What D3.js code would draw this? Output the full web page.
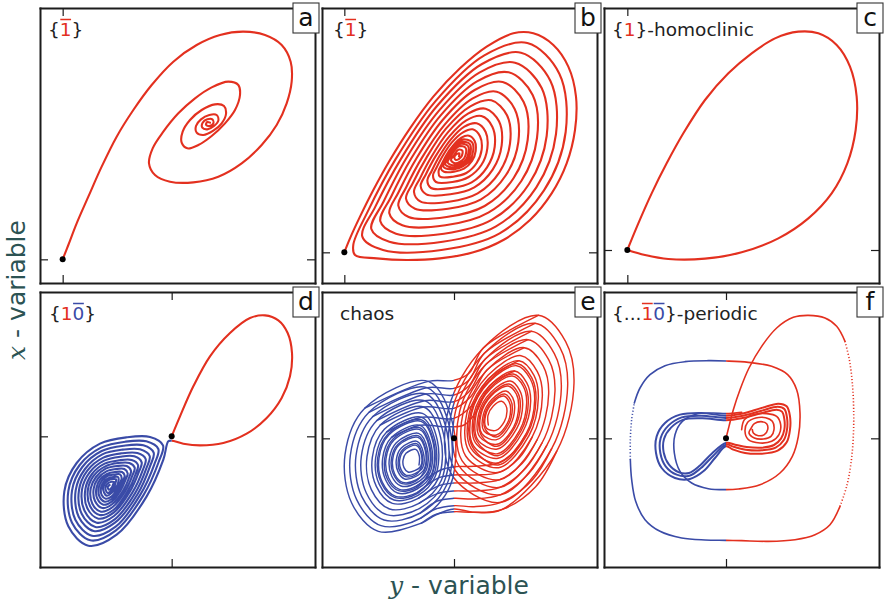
<!DOCTYPE html>
<html>
<head>
<meta charset="utf-8">
<script src="https://cdn.jsdelivr.net/npm/d3@7"></script>
<style>
  body { margin: 0; background: #fff; }
  svg { display: block; font-family: "DejaVu Sans", sans-serif; }
</style>
</head>
<body>
<svg id="chart" width="884" height="606"></svg>
<script>
// Phase portraits of a Lorenz-like system: unstable separatrix of the saddle
// (black dot at the origin) projected on the (y, x) plane.
// Red where y > 0, blue where y < 0.

const panelKeys = ["a", "b", "c", "d", "e", "f"];

// Title of each panel as [text, side, overbar]
const panelTitles = [
  [["{", "", false], ["1", "R", true], ["}", "", false]],
  [["{", "", false], ["1", "R", true], ["}", "", false]],
  [["{", "", false], ["1", "R", false], ["}-homoclinic", "", false]],
  [["{", "", false], ["1", "R", false], ["0", "B", true], ["}", "", false]],
  [["chaos", "", false]],
  [["{...", "", false], ["1", "R", true], ["0", "B", true], ["}-periodic", "", false]]
];

// Axis extents (y on the horizontal axis, x on the vertical axis)
const yVarDomains = [[-0.68, 7.57], [-0.67, 7.58], [-0.70, 7.55], [-3.95, 4.30], [-3.96, 4.29], [-3.66, 4.59]];
const xVarDomains = [[-0.71, 7.54], [-0.92, 7.33], [-0.99, 7.26], [-3.92, 4.33], [-3.86, 4.39], [-3.86, 4.39]];
const tickValues = [0];

// (a) {1̄}: one big excursion, then spiralling into the focus
const orbitA = [[0,0],[0.17,0.43],[0.42,1.08],[0.77,1.88],[1.17,2.78],[1.62,3.68],[2.12,4.48],[2.67,5.23],[3.32,5.93],[4.02,6.43],[4.72,6.73],[5.42,6.83],[6.07,6.73],[6.57,6.43],[6.84,5.93],[6.87,5.33],[6.72,4.68],[6.42,4.03],[5.97,3.43],[5.37,2.88],[4.67,2.48],[3.92,2.31],[3.22,2.33],[2.77,2.53],[2.59,2.88],[2.70,3.33],[3.02,3.83],[3.47,4.38],[3.97,4.83],[4.47,5.16],[4.97,5.33],[5.27,5.23],[5.32,4.93],[5.17,4.48],[4.87,4.08],[4.47,3.70],[4.07,3.43],[3.74,3.33],[3.57,3.50],[3.60,3.83],[3.82,4.18],[4.17,4.48],[4.57,4.65],[4.84,4.60],[4.90,4.36],[4.77,4.08],[4.52,3.86],[4.22,3.73],[4.02,3.80],[4.00,4.00],[4.15,4.20],[4.40,4.33],[4.62,4.33],[4.67,4.16],[4.54,4.00],[4.34,3.90],[4.19,3.95],[4.20,4.10],[4.34,4.20],[4.49,4.20],[4.52,4.08],[4.40,4.00],[4.30,4.04],[4.34,4.12],[4.42,4.10]];

// (b) {1̄}: slowly shrinking loops that graze the saddle
const orbitB = [
  [0,0],[0.17,0.42],[0.47,1.07],[0.87,1.87],[1.37,2.77],[1.97,3.72],[2.67,4.67],[3.47,5.52],[4.27,6.17],[5.07,6.57],[5.67,6.57],[6.27,6.22],[6.72,5.57],[6.95,4.67],[6.92,3.67],[6.67,2.67],[6.22,1.77],[5.57,0.97],[4.77,0.37],[3.87,0.00],[2.87,-0.18],[1.87,-0.23],[0.97,-0.18],[0.32,-0.08],
  [0.27,0.23],[0.70,1.22],[1.53,2.78],[2.73,4.53],[4.20,5.91],[5.49,6.28],[6.45,5.36],[6.64,3.61],[5.99,1.86],[4.66,0.57],[2.91,0.07],[1.16,0.07],
  [0.54,0.47],[0.93,1.37],[1.69,2.79],[2.78,4.39],[4.13,5.65],[5.30,5.99],[6.18,5.15],[6.35,3.55],[5.76,1.95],[4.55,0.78],[2.95,0.32],[1.35,0.32],
  [0.81,0.70],[1.17,1.51],[1.85,2.81],[2.84,4.25],[4.05,5.39],[5.12,5.69],[5.92,4.93],[6.07,3.49],[5.54,2.05],[4.43,0.98],[2.99,0.56],[1.55,0.56],
  [1.08,0.93],[1.40,1.66],[2.01,2.82],[2.89,4.11],[3.98,5.13],[4.93,5.40],[5.65,4.72],[5.78,3.43],[5.31,2.14],[4.32,1.19],[3.03,0.81],[1.74,0.81],
  [1.35,1.17],[1.63,1.81],[2.17,2.83],[2.95,3.97],[3.91,4.87],[4.75,5.11],[5.38,4.51],[5.50,3.37],[5.08,2.23],[4.21,1.39],[3.07,1.06],[1.93,1.06],
  [1.62,1.40],[1.86,1.96],[2.33,2.84],[3.01,3.83],[3.84,4.61],[4.57,4.82],[5.11,4.30],[5.22,3.31],[4.85,2.32],[4.10,1.59],[3.11,1.31],[2.12,1.31],
  [1.85,1.61],[2.06,2.09],[2.47,2.85],[3.05,3.71],[3.78,4.38],[4.41,4.56],[4.88,4.11],[4.97,3.26],[4.65,2.40],[4.00,1.77],[3.14,1.52],[2.29,1.52],
  [2.09,1.81],[2.27,2.22],[2.61,2.86],[3.10,3.59],[3.71,4.16],[4.24,4.31],[4.64,3.93],[4.72,3.21],[4.45,2.48],[3.90,1.95],[3.18,1.74],[2.46,1.74],
  [2.29,1.99],[2.44,2.33],[2.73,2.87],[3.15,3.48],[3.66,3.96],[4.11,4.09],[4.44,3.77],[4.51,3.16],[4.28,2.55],[3.82,2.10],[3.21,1.93],[2.60,1.93],
  [2.49,2.16],[2.62,2.44],[2.85,2.88],[3.19,3.38],[3.60,3.77],[3.97,3.87],[4.24,3.61],[4.29,3.12],[4.11,2.62],[3.73,2.26],[3.24,2.11],[2.75,2.11],
  [2.66,2.31],[2.76,2.53],[2.95,2.89],[3.22,3.29],[3.56,3.60],[3.85,3.69],[4.07,3.48],[4.12,3.08],[3.97,2.68],[3.66,2.38],[3.26,2.27],[2.87,2.27],
  [2.83,2.45],[2.91,2.62],[3.05,2.90],[3.26,3.20],[3.51,3.44],[3.74,3.50],[3.91,3.34],[3.94,3.04],[3.83,2.74],[3.59,2.51],[3.29,2.42],[2.99,2.42],
  [2.90,2.51],[3.09,2.90],[3.50,3.38],[3.84,3.29],[3.77,2.76],[3.30,2.49],
  [2.97,2.57],[3.13,2.90],[3.48,3.31],[3.77,3.24],[3.71,2.78],[3.31,2.55],
  [3.03,2.63],[3.17,2.90],[3.46,3.25],[3.71,3.19],[3.66,2.80],[3.32,2.61],
  [3.10,2.69],[3.21,2.91],[3.44,3.18],[3.64,3.13],[3.60,2.83],[3.33,2.67],
  [3.20,2.77],[3.29,2.91],[3.42,3.08],[3.54,3.05],[3.51,2.87],[3.35,2.77],
  [3.30,2.85],[3.38,2.95],[3.45,2.97],[3.44,2.88]
];

// (c) {1}: homoclinic loop back into the saddle
const orbitC = [[0,0],[0.33,0.80],[0.73,1.70],[1.18,2.60],[1.68,3.50],[2.33,4.50],[3.03,5.30],[3.73,5.90],[4.43,6.35],[5.13,6.55],[5.73,6.50],[6.28,6.15],[6.68,5.50],[6.88,4.60],[6.85,3.60],[6.60,2.60],[6.13,1.70],[5.43,0.95],[4.53,0.35],[3.43,-0.07],[2.33,-0.26],[1.23,-0.27],[0.53,-0.15],[0,0]];

// (d) {10̄}: one loop on the right, then a spiral into the left focus
const orbitD = [
  [0,0],[0.25,0.60],[0.65,1.50],[1.15,2.40],[1.75,3.10],[2.35,3.55],[2.80,3.63],[3.20,3.48],[3.48,3.10],[3.61,2.50],[3.55,1.80],[3.30,1.15],[2.85,0.55],[2.25,0.08],[1.55,-0.20],[0.85,-0.27],[0.35,-0.22],[0,-0.13],
  [-0.10,-0.15],[-0.25,-0.70],[-0.75,-1.80],[-1.65,-2.95],[-2.50,-3.28],[-3.10,-2.70],[-3.22,-1.65],[-2.85,-0.80],[-2.15,-0.22],[-1.35,-0.03],[-0.65,-0.02],
  [-0.26,-0.27],[-0.39,-0.77],[-0.85,-1.77],[-1.67,-2.82],[-2.44,-3.12],[-2.99,-2.59],[-3.10,-1.64],[-2.76,-0.86],[-2.12,-0.34],[-1.39,-0.16],[-0.76,-0.15],
  [-0.40,-0.38],[-0.52,-0.84],[-0.94,-1.75],[-1.68,-2.71],[-2.39,-2.98],[-2.89,-2.50],[-2.99,-1.63],[-2.68,-0.92],[-2.10,-0.44],[-1.43,-0.28],[-0.85,-0.27],
  [-0.54,-0.49],[-0.65,-0.90],[-1.02,-1.73],[-1.70,-2.59],[-2.34,-2.84],[-2.79,-2.41],[-2.88,-1.62],[-2.60,-0.98],[-2.08,-0.54],[-1.47,-0.40],[-0.95,-0.39],
  [-0.66,-0.59],[-0.76,-0.96],[-1.10,-1.71],[-1.71,-2.49],[-2.29,-2.72],[-2.70,-2.32],[-2.78,-1.61],[-2.53,-1.03],[-2.05,-0.64],[-1.51,-0.51],[-1.03,-0.50],
  [-0.78,-0.68],[-0.87,-1.02],[-1.18,-1.69],[-1.73,-2.39],[-2.25,-2.59],[-2.61,-2.24],[-2.69,-1.60],[-2.46,-1.08],[-2.03,-0.73],[-1.54,-0.61],[-1.12,-0.60],
  [-0.90,-0.78],[-0.99,-1.08],[-1.26,-1.67],[-1.74,-2.29],[-2.20,-2.47],[-2.53,-2.16],[-2.59,-1.59],[-2.39,-1.13],[-2.01,-0.82],[-1.58,-0.72],[-1.20,-0.71],
  [-1.01,-0.86],[-1.08,-1.13],[-1.32,-1.65],[-1.75,-2.21],[-2.16,-2.36],[-2.45,-2.09],[-2.51,-1.58],[-2.33,-1.17],[-1.99,-0.90],[-1.61,-0.80],[-1.27,-0.80],
  [-1.11,-0.94],[-1.18,-1.18],[-1.39,-1.64],[-1.77,-2.12],[-2.12,-2.26],[-2.38,-2.02],[-2.43,-1.57],[-2.27,-1.22],[-1.98,-0.97],[-1.64,-0.89],[-1.35,-0.89],
  [-1.22,-1.03],[-1.27,-1.22],[-1.45,-1.62],[-1.78,-2.03],[-2.08,-2.15],[-2.30,-1.94],[-2.34,-1.57],[-2.21,-1.26],[-1.96,-1.05],[-1.67,-0.98],[-1.42,-0.98],
  [-1.32,-1.11],[-1.37,-1.27],[-1.52,-1.60],[-1.79,-1.95],[-2.05,-2.05],[-2.23,-1.87],[-2.26,-1.56],[-2.15,-1.30],[-1.94,-1.13],[-1.70,-1.07],[-1.49,-1.07],
  [-1.41,-1.18],[-1.45,-1.31],[-1.57,-1.59],[-1.80,-1.88],[-2.01,-1.96],[-2.16,-1.82],[-2.19,-1.55],[-2.10,-1.34],[-1.93,-1.19],[-1.72,-1.15],[-1.55,-1.14],
  [-1.50,-1.25],[-1.53,-1.36],[-1.63,-1.58],[-1.81,-1.81],[-1.98,-1.87],[-2.10,-1.76],[-2.12,-1.55],[-2.05,-1.38],[-1.91,-1.26],[-1.75,-1.22],[-1.61,-1.22],
  [-1.59,-1.31],[-1.68,-1.56],[-1.95,-1.78],[-2.06,-1.54],[-1.90,-1.32],[-1.67,-1.29],
  [-1.68,-1.38],[-1.74,-1.55],[-1.92,-1.70],[-1.99,-1.53],[-1.88,-1.39],[-1.73,-1.37],
  [-1.76,-1.45],[-1.80,-1.54],[-1.88,-1.60],[-1.92,-1.52],[-1.86,-1.46]
];

// (e) chaos: growing loops round the right focus, a switch, loops round the left focus
const orbitE = [
  [1.03,0.40],[1.02,0.69],[1.18,0.97],[1.43,1.11],[1.55,1.00],[1.59,0.81],[1.51,0.50],[1.26,0.24],
  [0.97,0.31],[0.95,0.70],[1.16,1.07],[1.49,1.27],[1.65,1.11],[1.70,0.86],[1.60,0.45],[1.27,0.10],
  [0.90,0.22],[0.88,0.71],[1.14,1.17],[1.56,1.42],[1.76,1.22],[1.82,0.91],[1.69,0.40],[1.28,-0.04],
  [0.84,0.13],[0.81,0.72],[1.12,1.28],[1.62,1.57],[1.87,1.33],[1.94,0.96],[1.79,0.34],[1.29,-0.18],
  [0.77,0.05],[0.74,0.73],[1.11,1.38],[1.69,1.72],[1.97,1.44],[2.06,1.01],[1.88,0.29],[1.30,-0.32],
  [0.71,-0.04],[0.67,0.74],[1.09,1.48],[1.75,1.87],[2.08,1.56],[2.18,1.06],[1.97,0.24],[1.31,-0.46],
  [0.64,-0.13],[0.60,0.75],[1.07,1.58],[1.82,2.02],[2.18,1.67],[2.30,1.11],[2.06,0.19],[1.32,-0.60],
  [0.58,-0.22],[0.53,0.76],[1.05,1.69],[1.88,2.18],[2.29,1.78],[2.42,1.16],[2.16,0.13],[1.33,-0.74],
  [0.51,-0.30],[0.46,0.77],[1.04,1.79],[1.95,2.33],[2.40,1.89],[2.53,1.21],[2.25,0.08],[1.34,-0.88],
  [0.45,-0.39],[0.39,0.78],[1.02,1.89],[2.01,2.48],[2.50,2.00],[2.65,1.26],[2.34,0.03],[1.35,-1.02],
  [0.35,-0.53],[0.28,0.80],[0.99,2.05],[2.11,2.72],[2.67,2.18],[2.84,1.34],[2.49,-0.05],[1.37,-1.24],
  [0.24,-0.67],[0.17,0.81],[0.96,2.22],[2.22,2.96],[2.84,2.36],[3.03,1.42],[2.64,-0.14],[1.38,-1.47],
  [0.14,-0.81],[0.05,0.83],[0.94,2.38],[2.32,3.21],[3.01,2.54],[3.22,1.50],[2.78,-0.22],[1.40,-1.69],
  [0.03,-0.95],[-0.06,0.84],[0.91,2.55],[2.43,3.45],[3.18,2.72],[3.41,1.58],[2.93,-0.31],[1.41,-1.92],
  [-0.07,-1.09],[-0.17,0.86],[0.88,2.71],[2.53,3.69],[3.35,2.90],[3.60,1.66],[3.08,-0.39],[1.43,-2.14],
  [0.60,-2.22],[0,-2.12],[-0.55,-2.30],
  [-0.97,-2.54],[-2.27,-2.79],[-3.07,-1.94],[-3.27,-0.49],[-2.67,0.91],[-0.77,1.71],[-0.02,0.36],[-0.12,-1.44],
  [-0.99,-2.39],[-2.19,-2.62],[-2.92,-1.84],[-3.11,-0.51],[-2.55,0.78],[-0.81,1.52],[-0.12,0.28],[-0.21,-1.38],
  [-1.01,-2.24],[-2.10,-2.45],[-2.77,-1.74],[-2.94,-0.52],[-2.44,0.65],[-0.84,1.33],[-0.21,0.19],[-0.30,-1.32],
  [-1.03,-2.10],[-2.02,-2.29],[-2.63,-1.64],[-2.78,-0.54],[-2.32,0.53],[-0.88,1.13],[-0.31,0.11],[-0.38,-1.26],
  [-1.05,-1.95],[-1.93,-2.12],[-2.48,-1.54],[-2.61,-0.55],[-2.21,0.40],[-0.91,0.94],[-0.40,0.02],[-0.47,-1.20],
  [-1.07,-1.80],[-1.85,-1.95],[-2.33,-1.44],[-2.45,-0.57],[-2.09,0.27],[-0.95,0.75],[-0.50,-0.06],[-0.56,-1.14],
  [-1.08,-1.71],[-1.80,-1.85],[-2.24,-1.38],[-2.35,-0.58],[-2.02,0.19],[-0.97,0.63],[-0.56,-0.11],[-0.61,-1.10],
  [-1.09,-1.62],[-1.75,-1.74],[-2.15,-1.32],[-2.25,-0.59],[-1.95,0.11],[-0.99,0.51],[-0.62,-0.16],[-0.67,-1.07],
  [-1.11,-1.52],[-1.69,-1.64],[-2.05,-1.25],[-2.14,-0.60],[-1.87,0.03],[-1.02,0.39],[-0.68,-0.22],[-0.72,-1.03],
  [-1.12,-1.43],[-1.64,-1.53],[-1.96,-1.19],[-2.04,-0.61],[-1.80,-0.05],[-1.04,0.27],[-0.74,-0.27],[-0.78,-0.99],
  [-1.13,-1.34],[-1.59,-1.43],[-1.87,-1.13],[-1.94,-0.62],[-1.73,-0.13],[-1.06,0.15],[-0.80,-0.32],[-0.83,-0.95],
  [-1.14,-1.25],[-1.54,-1.32],[-1.78,-1.07],[-1.84,-0.63],[-1.66,-0.21],[-1.08,0.03],[-0.86,-0.37],[-0.89,-0.92],
  [-1.16,-1.15],[-1.48,-1.22],[-1.68,-1.00],[-1.73,-0.64],[-1.58,-0.29],[-1.11,-0.09],[-0.92,-0.43],[-0.94,-0.88],
  [-1.17,-1.06],[-1.43,-1.11],[-1.59,-0.94],[-1.63,-0.65],[-1.51,-0.37],[-1.13,-0.21],[-0.98,-0.48],[-1.00,-0.84],
  [-1.18,-0.97],[-1.38,-1.01],[-1.50,-0.88],[-1.53,-0.66],[-1.44,-0.45],[-1.15,-0.33],[-1.04,-0.53],[-1.05,-0.80]
];

// (e) further circuits of each wing, filling the dense middle of the attractor
const circuitsE = [
  [[0.94,0.27],[0.92,0.70],[1.15,1.11],[1.52,1.33],[1.70,1.15],[1.75,0.88],[1.64,0.43],[1.27,0.04]],
  [[0.81,0.10],[0.78,0.72],[1.12,1.32],[1.65,1.63],[1.91,1.38],[1.99,0.98],[1.82,0.32],[1.29,-0.24]],
  [[0.68,-0.08],[0.64,0.74],[1.08,1.52],[1.78,1.93],[2.12,1.60],[2.23,1.08],[2.01,0.22],[1.31,-0.52]],
  [[0.55,-0.25],[0.50,0.76],[1.05,1.73],[1.91,2.24],[2.33,1.82],[2.46,1.18],[2.19,0.11],[1.33,-0.80]],
  [[-0.96,-0.46],[-0.98,-0.86],[-1.16,-1.10],[-1.45,-1.15],[-1.63,-0.97],[-1.67,-0.65],[-1.54,-0.34],[-1.12,-0.16]],
  [[-0.84,-0.35],[-0.87,-0.93],[-1.14,-1.28],[-1.56,-1.36],[-1.81,-1.09],[-1.88,-0.63],[-1.68,-0.18],[-1.08,0.08]],
  [[-0.72,-0.25],[-0.76,-1.01],[-1.11,-1.47],[-1.66,-1.57],[-2.00,-1.22],[-2.08,-0.61],[-1.83,-0.02],[-1.03,0.32]],
  [[-0.60,-0.14],[-0.65,-1.08],[-1.09,-1.65],[-1.77,-1.78],[-2.18,-1.34],[-2.29,-0.59],[-1.97,0.14],[-0.99,0.56]]
];

// (e) passages between the two wings
const switchesE = [
  // left wing -> right wing, over the top
  [[-2.67,0.91],[-0.77,1.71],[0,1.74],[0.45,1.95],[0.88,2.71],[2.53,3.69]],
  [[-2.55,0.78],[-0.81,1.52],[0,1.50],[0.45,1.75],[0.91,2.55],[2.43,3.45]],
  [[-2.44,0.65],[-0.84,1.33],[0,1.30],[0.45,1.58],[0.94,2.38],[2.32,3.21]],
  [[-2.32,0.53],[-0.88,1.13],[0,1.10],[0.45,1.40],[0.96,2.22],[2.22,2.96]],
  [[-2.21,0.40],[-0.91,0.94],[0,0.90],[0.50,1.25],[0.99,2.05],[2.11,2.72]],
  [[-2.02,0.19],[-0.97,0.63],[0,0.60],[0.55,1.00],[1.04,1.79],[1.95,2.33]],
  [[-1.87,0.03],[-1.02,0.39],[-0.30,0.35],[0.30,0.40],[0.70,0.85],[1.07,1.58],[1.82,2.02]],
  // right wing -> left wing, underneath
  [[3.08,-0.39],[2.45,-1.45],[1.43,-2.14],[0.60,-2.22],[0,-2.20],[-0.55,-2.28],[-0.97,-2.54]],
  [[2.93,-0.31],[2.35,-1.25],[1.41,-1.92],[0.60,-2.05],[0,-2.02],[-0.55,-2.12],[-0.99,-2.39]],
  [[2.78,-0.22],[2.25,-1.05],[1.40,-1.69],[0.60,-1.82],[0,-1.80],[-0.50,-1.88],[-1.01,-2.24]],
  [[2.64,-0.14],[2.15,-0.90],[1.38,-1.47],[0.60,-1.58],[0,-1.58],[-0.50,-1.66],[-1.05,-1.95]],
  [[2.49,-0.05],[2.05,-0.75],[1.37,-1.24],[0.60,-1.34],[0,-1.34],[-0.45,-1.42],[-1.07,-1.80]],
  [[2.34,0.03],[1.95,-0.60],[1.35,-1.02],[0.60,-1.10],[0,-1.10],[-0.45,-1.18],[-1.09,-1.62]],
  [[2.16,0.13],[1.80,-0.40],[1.33,-0.74],[0.60,-0.84],[0,-0.85],[-0.40,-0.95],[-1.12,-1.43]]
];

// (f) {...1̄0̄}: transient orbit approaching the periodic one
const orbitF = [[0,0],[0.09,0.36],[0.22,0.86],[0.42,1.46],[0.69,2.11],[1.07,2.76],[1.52,3.31],[2.02,3.63],[2.47,3.69],[2.97,3.61],[3.32,3.36],[3.57,2.91],[3.70,2.36],[3.79,1.66],[3.83,0.86],[3.82,0.06],[3.75,-0.74],[3.62,-1.44],[3.42,-2.04],[3.12,-2.59],[2.67,-2.89],[2.07,-3.04],[1.27,-3.09],[0.47,-3.07],[0,-3.06],[-0.63,-3.05],[-1.33,-2.99],[-1.98,-2.79],[-2.43,-2.44],[-2.71,-1.89],[-2.83,-1.24],[-2.87,-0.64],[-2.87,-0.04],[-2.83,0.56],[-2.75,1.06],[-2.58,1.51],[-2.28,1.91],[-1.83,2.18],[-1.23,2.30],[-0.53,2.33],[0,2.32],[0.67,2.28],[1.37,2.16],[1.85,1.91],[2.12,1.46],[2.22,0.76],[2.17,0.06],[1.99,-0.54],[1.62,-1.04],[1.02,-1.39],[0.37,-1.52],[0,-1.54],[-0.53,-1.51],[-1.03,-1.34],[-1.38,-0.99],[-1.55,-0.44],[-1.53,0.11],[-1.31,0.51],[-0.88,0.73],[-0.38,0.76],[0,0.74],[0.47,0.78]];
// fast stretches of orbitF, where samples are sparse (index ranges)
const orbitFSparse = [[11, 18], [31, 34]];

// (f) the figure-eight periodic orbit, traced several times
const cycleF = [
  [[0,0.68],[0.47,0.74],[1.07,0.91],[1.57,1.04],[1.82,0.96],[1.92,0.66],[1.92,0.26],[1.82,-0.12],[1.55,-0.37],[1.07,-0.46],[0.57,-0.44],[0.22,-0.34],[0,-0.24],[-0.33,-0.59],[-0.68,-0.99],[-1.08,-1.22],[-1.53,-1.19],[-1.93,-0.89],[-2.10,-0.44],[-2.08,0.06],[-1.83,0.46],[-1.38,0.71],[-0.73,0.76]],
  [[0,0.61],[0.47,0.67],[1.07,0.83],[1.55,0.95],[1.75,0.88],[1.83,0.62],[1.83,0.26],[1.73,-0.06],[1.49,-0.28],[1.07,-0.36],[0.59,-0.34],[0.25,-0.26],[0,-0.19],[-0.38,-0.52],[-0.75,-0.89],[-1.10,-1.12],[-1.48,-1.09],[-1.81,-0.84],[-1.97,-0.44],[-1.96,0.01],[-1.73,0.38],[-1.33,0.63],[-0.73,0.68]],
  [[0,0.54],[0.47,0.60],[1.05,0.75],[1.52,0.86],[1.68,0.80],[1.75,0.58],[1.75,0.26],[1.65,-0.01],[1.44,-0.20],[1.07,-0.28],[0.62,-0.26],[0.27,-0.19],[0,-0.14],[-0.43,-0.46],[-0.79,-0.82],[-1.11,-1.04],[-1.41,-1.02],[-1.71,-0.79],[-1.87,-0.42],[-1.86,-0.02],[-1.65,0.32],[-1.28,0.56],[-0.71,0.60]]
];

// (f) small loops inside the right lobe
const innerF = [[0.47,0.26],[0.55,0.56],[0.82,0.71],[1.22,0.74],[1.52,0.66],[1.64,0.41],[1.59,0.11],[1.37,-0.09],[1.02,-0.14],[0.67,-0.04],[0.57,0.21],[0.65,0.48],[0.89,0.61],[1.19,0.62],[1.39,0.51],[1.44,0.26],[1.35,0.06],[1.12,-0.02],[0.85,0.01],[0.69,0.16],[0.75,0.30],[0.85,0.44],[1.05,0.50],[1.22,0.44],[1.25,0.26],[1.15,0.11],[0.97,0.08],[0.82,0.16],[0.79,0.26]];

// ---------------------------------------------------------------------------

const RED = "#e3301f", BLUE = "#3a4ba7", INK = "#1c1c1c", AXIS_INK = "#2c5353";
const svg = d3.select("#chart");
const defs = svg.append("defs");
const cols = [40, 322, 604], rows = [8, 292], W = 275, H = 275;
const lineWidth = { a: 2.1, b: 2.1, c: 2.1, d: 2.1, e: 1.45, f: 1.6 };
const twoSided = { a: false, b: false, c: false, d: true, e: true, f: true };
const titleInset = [8, 11, 8, 9, 18, 8];

function strandsFor(key) {
  if (key === "a") return [{ pts: orbitA }];
  if (key === "b") return [{ pts: orbitB }];
  if (key === "c") return [{ pts: orbitC }];
  if (key === "d") return [{ pts: orbitD }];
  if (key === "e") return [{ pts: orbitE }]
    .concat(circuitsE.map(p => ({ pts: p, closed: true })))
    .concat(switchesE.map(p => ({ pts: p })));
  const out = [];
  let prev = 0;
  orbitFSparse.forEach(([s, e]) => {
    out.push({ pts: orbitF.slice(prev, s + 1) });
    out.push({ pts: orbitF.slice(s, e + 1), sparse: true });
    prev = e;
  });
  out.push({ pts: orbitF.slice(prev) });
  cycleF.forEach(p => out.push({ pts: p, closed: true, width: 2.0 }));
  out.push({ pts: innerF });
  return out;
}

panelKeys.forEach((key, i) => {
  const x0 = cols[i % 3], y0 = rows[Math.floor(i / 3)];
  const xs = d3.scaleLinear().domain(yVarDomains[i]).range([x0, x0 + W]);
  const ys = d3.scaleLinear().domain(xVarDomains[i]).range([y0 + H, y0]);
  const g = svg.append("g").attr("class", "panel-" + key);

  // clip regions on either side of y = 0
  const sx = xs(0);
  defs.append("clipPath").attr("id", "pos-" + key).append("rect")
    .attr("x", sx).attr("y", y0).attr("width", x0 + W - sx).attr("height", H);
  defs.append("clipPath").attr("id", "neg-" + key).append("rect")
    .attr("x", x0).attr("y", y0).attr("width", sx - x0).attr("height", H);
  defs.append("clipPath").attr("id", "box-" + key).append("rect")
    .attr("x", x0).attr("y", y0).attr("width", W).attr("height", H);

  const open = d3.line().x(d => xs(d[0])).y(d => ys(d[1])).curve(d3.curveCatmullRom.alpha(0.5));
  const closed = d3.line().x(d => xs(d[0])).y(d => ys(d[1])).curve(d3.curveCatmullRomClosed.alpha(0.5));

  const traj = g.append("g").attr("fill", "none")
    .attr("stroke-linejoin", "round").attr("stroke-linecap", "round");

  strandsFor(key).forEach(s => {
    const dPath = (s.closed ? closed : open)(s.pts);
    const sides = twoSided[key] ? [["pos", RED], ["neg", BLUE]] : [["box", RED]];
    sides.forEach(([clip, col]) => {
      const p = traj.append("path").attr("d", dPath)
        .attr("clip-path", `url(#${clip}-${key})`)
        .attr("stroke", col)
        .attr("stroke-width", s.width || lineWidth[key]);
      if (s.sparse) p.attr("stroke-dasharray", "1.1 2.1").attr("stroke-linecap", "butt");
    });
  });

  // frame with a single tick at the origin on each side
  const axes = [
    [d3.axisBottom(xs), `translate(0,${y0 + H})`],
    [d3.axisTop(xs), `translate(0,${y0})`],
    [d3.axisLeft(ys), `translate(${x0},0)`],
    [d3.axisRight(ys), `translate(${x0 + W},0)`]
  ];
  axes.forEach(([ax, tr]) => {
    const ag = g.append("g").attr("transform", tr).attr("color", INK)
      .call(ax.tickValues(tickValues).tickSizeInner(-8).tickSizeOuter(0).tickFormat(() => ""));
    ag.select(".domain").attr("stroke-width", 2).attr("stroke-linecap", "square");
    ag.selectAll(".tick line").attr("stroke-width", 1.2);
  });

  // saddle equilibrium
  g.append("circle").attr("cx", xs(0)).attr("cy", ys(0)).attr("r", 3).attr("fill", "#000");

  // symbolic title
  const ty = y0 + 27.5;
  const t = g.append("text").attr("x", x0 + titleInset[i]).attr("y", ty)
    .attr("font-size", 18.5).attr("fill", "#222");
  let idx = 0;
  const bars = [];
  panelTitles[i].forEach(([txt, side, bar]) => {
    t.append("tspan").text(txt).attr("fill", side === "R" ? RED : side === "B" ? BLUE : "#222");
    if (bar) bars.push({ at: idx, n: txt.length, side });
    idx += txt.length;
  });
  bars.forEach(b => {
    const node = t.node();
    const a = node.getStartPositionOfChar(b.at).x;
    const e = node.getEndPositionOfChar(b.at + b.n - 1).x;
    g.append("line").attr("x1", a + 0.5).attr("x2", e - 0.5)
      .attr("y1", ty - 16).attr("y2", ty - 16)
      .attr("stroke", b.side === "R" ? RED : BLUE).attr("stroke-width", 1.5);
  });

  // panel letter
  const bx = x0 + W - 22;
  g.append("rect").attr("x", bx).attr("y", y0 - 5).attr("width", 26).attr("height", 30)
    .attr("fill", "#fff").attr("stroke", "#333").attr("stroke-width", 1.1);
  g.append("text").attr("x", bx + 13).attr("y", y0 + 18).attr("text-anchor", "middle")
    .attr("font-size", 25).attr("fill", "#111").text(key);
});

// shared axis titles
const vLab = svg.append("text").attr("transform", "translate(25,290) rotate(-90)")
  .attr("text-anchor", "middle").attr("font-size", 25).attr("fill", AXIS_INK);
vLab.append("tspan").attr("font-family", "DejaVu Serif").attr("font-style", "italic").text("x");
vLab.append("tspan").text(" - variable");

const hLab = svg.append("text").attr("x", 459).attr("y", 594)
  .attr("text-anchor", "middle").attr("font-size", 25).attr("fill", AXIS_INK);
hLab.append("tspan").attr("font-family", "DejaVu Serif").attr("font-style", "italic").text("y");
hLab.append("tspan").text(" - variable");
</script>
</body>
</html>
